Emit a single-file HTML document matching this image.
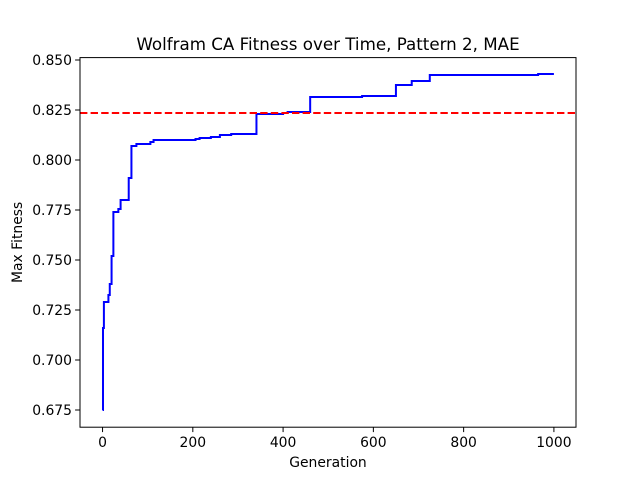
<!DOCTYPE html>
<html><head><meta charset="utf-8"><style>body{margin:0;background:#fff}svg{display:block}text{font-family:"DejaVu Sans","Liberation Sans",sans-serif;fill:#000}</style></head>
<body>
<svg id="chart" width="640" height="480" xmlns="http://www.w3.org/2000/svg"></svg>
<script>
const generations=[0,1,3,13,16,20,24,35,40,58,64,75,106,113,206,215,240,260,285,341,400,410,460,575,650,685,725,965,1000];
const fitness=[0.675,0.716,0.729,0.7325,0.738,0.752,0.774,0.7755,0.780,0.791,0.807,0.808,0.809,0.810,0.8105,0.811,0.8115,0.8125,0.813,0.823,0.8235,0.824,0.8315,0.832,0.8375,0.8395,0.8425,0.843,0.843];
const threshold=0.8235;
const xTicks=[0,200,400,600,800,1000];
const yTicks=[0.675,0.700,0.725,0.750,0.775,0.800,0.825,0.850];
const L=80,R=576,T=57.6,B=427.2,xmin=-49.95,xmax=1048.95,ymin=0.6664,ymax=0.8512;
const sx=v=>L+(v-xmin)/(xmax-xmin)*(R-L), sy=v=>B-(v-ymin)/(ymax-ymin)*(B-T);
const svg=document.getElementById('chart');const NS='http://www.w3.org/2000/svg';
function mk(t,a,p){const e=document.createElementNS(NS,t);for(const k in a)e.setAttribute(k,a[k]);(p||svg).appendChild(e);return e;}
let d='';generations.forEach((g,i)=>{if(i===0)d+=`M${sx(g)},${sy(fitness[i])}`;else d+=`L${sx(g)},${sy(fitness[i-1])}L${sx(g)},${sy(fitness[i])}`;});
const line=mk('path',{d,fill:'none',stroke:'#0000ff','stroke-width':2});


const th=mk('line',{x1:L,x2:R,y1:sy(threshold),y2:sy(threshold),stroke:'#ff0000','stroke-width':2,'stroke-dasharray':'7.4,3.2'});


const fr=mk('rect',{x:L,y:T,width:R-L,height:B-T,fill:'none',stroke:'#000','stroke-width':1});


xTicks.forEach(v=>{const x=sx(v);mk('line',{x1:x,x2:x,y1:B,y2:B+4.9,stroke:'#000','stroke-width':1});const t=mk('text',{x:x,y:B+20,'font-size':13.9,'text-anchor':'middle'});t.textContent=v;

});
yTicks.forEach(v=>{const y=sy(v);mk('line',{x1:L-4.9,x2:L,y1:y,y2:y,stroke:'#000','stroke-width':1});const t=mk('text',{x:L-8,y:y+5,'font-size':13.9,'text-anchor':'end'});t.textContent=v.toFixed(3);

});
const xt=mk('text',{x:(L+R)/2,y:467,'font-size':13.9,'text-anchor':'middle'});xt.textContent='Generation';

const yt=mk('text',{x:0,y:0,'font-size':13.9,'text-anchor':'middle',transform:`translate(22,${(T+B)/2}) rotate(-90)`});yt.textContent='Max Fitness';

const tt=mk('text',{x:(L+R)/2,y:50,'font-size':16.7,'text-anchor':'middle'});tt.textContent='Wolfram CA Fitness over Time, Pattern 2, MAE';

</script>
</body></html>
